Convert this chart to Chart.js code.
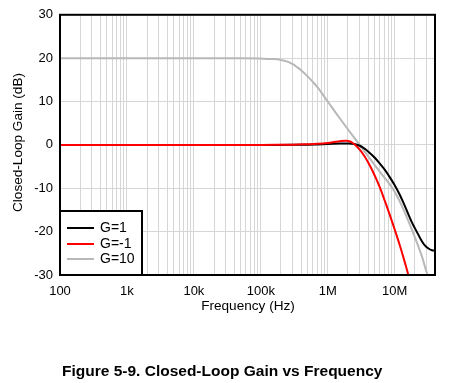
<!DOCTYPE html>
<html>
<head>
<meta charset="utf-8">
<script src="https://cdn.jsdelivr.net/npm/chart.js@4.4.1/dist/chart.umd.min.js"></script>
<style>
  html, body { margin: 0; padding: 0; background: #fff; }
  #wrap { position: relative; width: 451px; height: 383px; }
</style>
</head>
<body>
<div id="wrap"><canvas id="c" width="451" height="383"></canvas></div>
<script>
// ---- data ----
const seriesLabels = ["G=1", "G=-1", "G=10"];
const seriesColors = ["#000000", "#ff0000", "#b8b8b8"];

const freqG1  = [100, 1e3, 1e4, 1e5, 3e5, 5e5, 7e5, 1e6, 1.5e6, 2e6, 2.5e6, 3e6, 3.5e6, 4e6, 5e6, 6e6, 7e6, 8e6, 1e7, 1.2e7, 1.4e7, 1.6e7, 1.8e7, 2e7, 2.2e7, 2.5e7, 2.8e7, 3.2e7, 3.6e7, 4e7];
const gainG1  = [0, 0, 0, 0, 0.02, 0.06, 0.12, 0.2, 0.3, 0.33, 0.2, -0.2, -0.8, -1.5, -2.9, -4.3, -5.6, -6.9, -9.3, -11.6, -13.9, -16.0, -17.8, -19.2, -20.4, -22.0, -23.1, -23.9, -24.3, -24.4];

const freqGm1 = [100, 1e3, 1e4, 1e5, 3e5, 5e5, 7e5, 1e6, 1.3e6, 1.6e6, 1.9e6, 2.1e6, 2.3e6, 2.6e6, 3e6, 3.5e6, 4e6, 4.5e6, 5e6, 6e6, 7e6, 8e6, 9e6, 1e7, 1.2e7, 1.4e7, 1.6e7, 1.8e7];
const gainGm1 = [0, 0, 0, 0, 0.05, 0.15, 0.25, 0.45, 0.7, 0.9, 0.95, 0.85, 0.55, -0.1, -1.1, -2.5, -4.0, -5.5, -7.0, -9.8, -12.6, -15.1, -17.4, -19.5, -23.3, -26.8, -30, -32.8];

const freqG10 = [100, 1e3, 1e4, 5e4, 1e5, 1.5e5, 2e5, 2.5e5, 3e5, 3.5e5, 4e5, 5e5, 6e5, 7e5, 8e5, 1e6, 1.5e6, 2e6, 3e6, 4e6, 5e6, 6e6, 7.8e6, 1e7, 1.3e7, 1.8e7, 2.5e7, 3.1e7, 4e7];
const gainG10 = [20, 20, 20, 19.97, 19.9, 19.8, 19.6, 19.2, 18.6, 17.9, 17.2, 15.8, 14.5, 13.3, 12.1, 10.0, 6.2, 3.6, 0.0, -2.6, -4.6, -6.2, -8.4, -10.8, -14.3, -19.5, -25.3, -30, -34];

const xDecadeLabels = {100: "100", 1000: "1k", 10000: "10k", 100000: "100k", 1000000: "1M", 10000000: "10M"};
const yTicks = [30, 20, 10, 0, -10, -20, -30];

const xTitle = "Frequency (Hz)";
const yTitle = "Closed-Loop Gain (dB)";
const caption = "Figure 5-9. Closed-Loop Gain vs Frequency";

function toPts(xs, ys) { return xs.map((x, i) => ({x: x, y: ys[i]})); }

const FONT = "'Liberation Sans', Arial, sans-serif";

const framePlugin = {
  id: 'frame',
  afterDraw(chart) {
    const ctx = chart.ctx;
    const a = chart.chartArea;
    ctx.save();
    // plot border
    ctx.strokeStyle = '#000';
    ctx.lineWidth = 2;
    ctx.strokeRect(a.left, a.top, a.right - a.left, a.bottom - a.top);

    // legend box (bottom-left inside plot)
    const bx = a.left, bw = 82, bh = 64, by = a.bottom - bh;
    ctx.fillStyle = '#fff';
    ctx.fillRect(bx, by, bw, bh);
    ctx.strokeRect(bx, by, bw, bh);
    const ys = [228, 244, 259];
    ctx.font = "14px " + FONT;
    ctx.textBaseline = 'middle';
    ctx.textAlign = 'left';
    seriesLabels.forEach((lab, i) => {
      ctx.strokeStyle = seriesColors[i];
      ctx.lineWidth = 2;
      ctx.beginPath();
      ctx.moveTo(a.left + 7, ys[i]);
      ctx.lineTo(a.left + 34, ys[i]);
      ctx.stroke();
      ctx.fillStyle = '#000';
      ctx.fillText(lab, a.left + 40, ys[i] + 0.5);
    });

    // axis titles
    ctx.fillStyle = '#000';
    ctx.font = "13.6px " + FONT;
    ctx.textAlign = 'center';
    ctx.textBaseline = 'middle';
    ctx.fillText(xTitle, 248, 306.5);
    ctx.save();
    ctx.translate(18, 142.5);
    ctx.rotate(-Math.PI / 2);
    ctx.fillText(yTitle, 0, 0);
    ctx.restore();

    // caption
    ctx.font = "bold 15.5px " + FONT;
    ctx.textAlign = 'left';
    ctx.fillText(caption, 62, 372);
    ctx.restore();
  }
};

const datasets = [
  {label: seriesLabels[0], data: toPts(freqG1, gainG1), order: 1},
  {label: seriesLabels[1], data: toPts(freqGm1, gainGm1), order: 0},
  {label: seriesLabels[2], data: toPts(freqG10, gainG10), order: 2}
].map((d, i) => Object.assign(d, {
  borderColor: seriesColors[i],
  backgroundColor: seriesColors[i],
  borderWidth: 2,
  pointRadius: 0,
  tension: 0.4,
  fill: false
}));

new Chart(document.getElementById('c'), {
  type: 'line',
  data: { datasets: datasets },
  options: {
    responsive: false,
    animation: false,
    events: [],
    layout: { padding: { top: 11, right: 16, bottom: 0, left: 0 } },
    plugins: { legend: { display: false }, tooltip: { enabled: false }, title: { display: false } },
    scales: {
      x: {
        type: 'logarithmic',
        min: 100,
        max: 4e7,
        afterFit(s) { s.height = 108; },
        afterBuildTicks(s) {
          const t = [];
          for (let e = 2; e <= 7; e++) {
            for (let m = 1; m <= 9; m++) {
              const v = m * Math.pow(10, e);
              if (v <= 4e7) t.push({value: v});
            }
          }
          s.ticks = t;
        },
        grid: { color: '#d6d6d6', lineWidth: 1, drawTicks: false },
        border: { display: false },
        ticks: {
          autoSkip: false,
          maxRotation: 0,
          padding: 9,
          color: '#000',
          font: { family: FONT, size: 13 },
          callback(v) { return xDecadeLabels[Math.round(v)] || ''; }
        }
      },
      y: {
        type: 'linear',
        min: -30,
        max: 30,
        afterFit(s) { s.width = 60; },
        afterBuildTicks(s) { s.ticks = yTicks.map(v => ({value: v})); },
        grid: { color: '#d6d6d6', lineWidth: 1, drawTicks: false },
        border: { display: false },
        ticks: {
          padding: 7,
          color: '#000',
          font: { family: FONT, size: 13 },
          callback(v) { return String(v); }
        }
      }
    }
  },
  plugins: [framePlugin]
});
</script>
</body>
</html>
